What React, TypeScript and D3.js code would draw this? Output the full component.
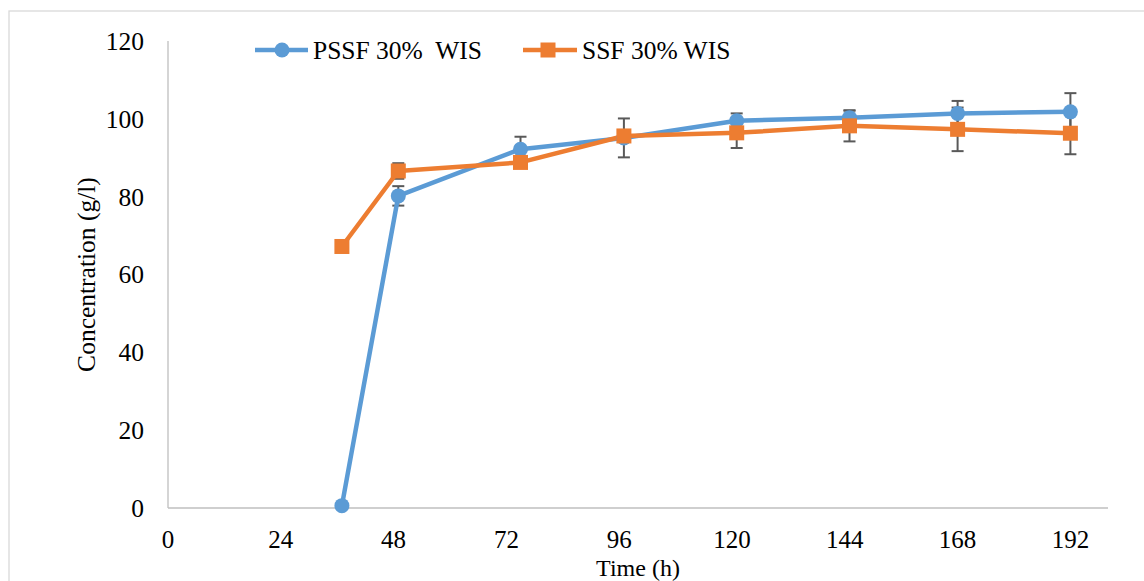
import React from "react";
import * as d3 from "d3";

const times = [37, 49, 75, 97, 121, 145, 168, 192];
const pssf = [0.6, 80.2, 92.2, 95.1, 99.5, 100.3, 101.4, 101.8];
const pssfErr = [0, 2.5, 3.2, 5, 1.9, 1.8, 3.2, 4.8];
const ssf = [67.2, 86.6, 88.8, 95.6, 96.4, 98.2, 97.3, 96.3];
const ssfErr = [0, 2, 1, 1, 3.9, 4, 5.6, 5.4];
const xTicks = [0, 24, 48, 72, 96, 120, 144, 168, 192];
const yTicks = [0, 20, 40, 60, 80, 100, 120];
const seriesNames = ["PSSF 30%  WIS", "SSF 30% WIS"];

const W = 1144;
const H = 581;
const BLUE = "#5B9BD5";
const ORANGE = "#ED7D31";
const ERR = "#595959";
const FONT = "'Liberation Serif', 'Times New Roman', serif";

export default function App() {
  const x = d3.scaleLinear().domain([0, 200]).range([168, 1108]);
  const y = d3.scaleLinear().domain([0, 120]).range([508, 41]);
  const line = d3
    .line<[number, number]>()
    .x((d) => x(d[0]))
    .y((d) => y(d[1]));
  const pssfPts = times.map((t, i) => [t, pssf[i]] as [number, number]);
  const ssfPts = times.map((t, i) => [t, ssf[i]] as [number, number]);

  const errBars = (vals: number[], errs: number[], key: string) =>
    times.map((t, i) =>
      errs[i] > 0 ? (
        <g key={key + i} stroke={ERR} strokeWidth={2}>
          <line x1={x(t)} x2={x(t)} y1={y(vals[i] - errs[i])} y2={y(vals[i] + errs[i])} />
          <line x1={x(t) - 6} x2={x(t) + 6} y1={y(vals[i] + errs[i])} y2={y(vals[i] + errs[i])} />
          <line x1={x(t) - 6} x2={x(t) + 6} y1={y(vals[i] - errs[i])} y2={y(vals[i] - errs[i])} />
        </g>
      ) : null
    );

  return (
    <svg
      width={W}
      height={H}
      style={{ position: "absolute", left: 0, top: 0, background: "#fff" }}
      fontFamily={FONT}
    >
      <rect x={9} y={11} width={W + 20} height={H + 20} fill="#fff" stroke="#d9d9d9" strokeWidth={1.3} />
      {/* axes */}
      <line x1={x(0)} x2={x(0)} y1={y(0)} y2={y(120)} stroke="#bfbfbf" strokeWidth={1.3} />
      <line x1={x(0)} x2={x(200)} y1={y(0)} y2={y(0)} stroke="#bfbfbf" strokeWidth={1.3} />
      {yTicks.map((t) => (
        <text key={"y" + t} x={144} y={y(t)} dy="0.35em" textAnchor="end" fontSize={25.5} fill="#000">
          {t}
        </text>
      ))}
      {xTicks.map((t) => (
        <text key={"x" + t} x={x(t)} y={548} textAnchor="middle" fontSize={25} fill="#000">
          {t}
        </text>
      ))}
      <text x={638} y={575.5} textAnchor="middle" fontSize={24} fill="#000">
        Time (h)
      </text>
      <text
        transform={`translate(95, ${(y(0) + y(120)) / 2}) rotate(-90)`}
        textAnchor="middle"
        fontSize={25.5}
        fill="#000"
      >
        Concentration (g/l)
      </text>
      {/* error bars */}
      {errBars(pssf, pssfErr, "pe")}
      {errBars(ssf, ssfErr, "se")}
      {/* lines */}
      <path d={line(pssfPts) || ""} fill="none" stroke={BLUE} strokeWidth={4.5} strokeLinejoin="round" />
      <path d={line(ssfPts) || ""} fill="none" stroke={ORANGE} strokeWidth={4.5} strokeLinejoin="round" />
      {/* markers */}
      {pssfPts.map((p, i) => (
        <circle key={"pc" + i} cx={x(p[0])} cy={y(p[1])} r={7.5} fill={BLUE} />
      ))}
      {ssfPts.map((p, i) => (
        <rect key={"sr" + i} x={x(p[0]) - 7.5} y={y(p[1]) - 7.5} width={15} height={15} fill={ORANGE} />
      ))}
      {/* legend */}
      <line x1={255} x2={308} y1={50} y2={50} stroke={BLUE} strokeWidth={4.5} />
      <circle cx={282} cy={50} r={7.5} fill={BLUE} />
      <text x={313} y={50} dy="0.35em" fontSize={25.5} fill="#000" style={{ whiteSpace: "pre" }}>
        {seriesNames[0]}
      </text>
      <line x1={523} x2={577} y1={50} y2={50} stroke={ORANGE} strokeWidth={4.5} />
      <rect x={548 - 7.5} y={50 - 7.5} width={15} height={15} fill={ORANGE} />
      <text x={582} y={50} dy="0.35em" fontSize={25.5} fill="#000">
        {seriesNames[1]}
      </text>
    </svg>
  );
}
